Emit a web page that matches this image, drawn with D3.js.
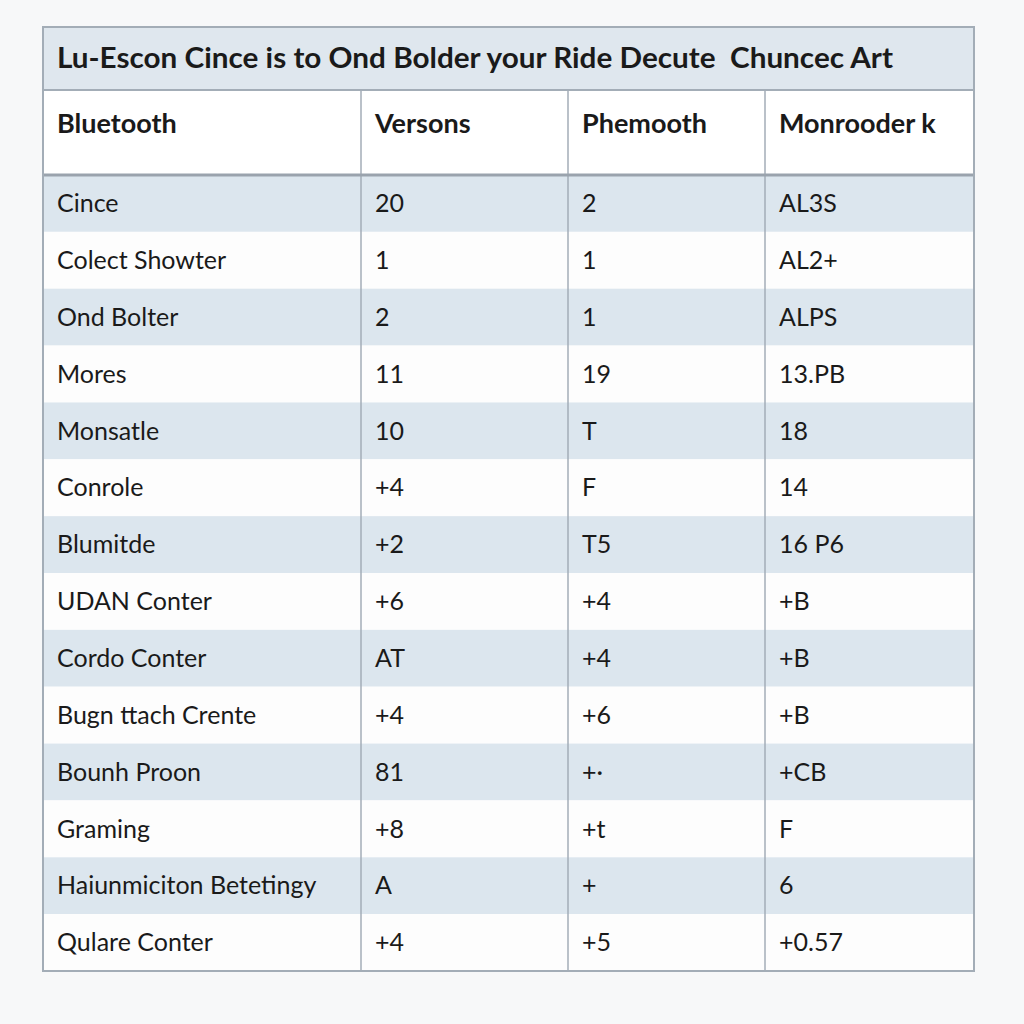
<!DOCTYPE html>
<html><head><meta charset="utf-8">
<script src="https://cdn.jsdelivr.net/npm/d3@7"></script>
<style>
html,body{margin:0;padding:0;background:#f7f8f9;}
svg{display:block;}
text{font-family:Lato,"Open Sans",sans-serif;fill:#1a1a1a;white-space:pre;}
</style></head>
<body><svg id="c" width="1024" height="1024"></svg>
<script>
const title = "Lu-Escon Cince is to Ond Bolder your Ride Decute  Chuncec Art";
const columns = ["Bluetooth", "Versons", "Phemooth", "Monrooder k"];
const categories = ["Cince","Colect Showter","Ond Bolter","Mores","Monsatle","Conrole","Blumitde","UDAN Conter","Cordo Conter","Bugn ttach Crente","Bounh Proon","Graming","Haiunmiciton Betetingy","Qulare Conter"];
const versons = ["20","1","2","11","10","+4","+2","+6","AT","+4","81","+8","A","+4"];
const phemooth = ["2","1","1","19","T","F","T5","+4","+4","+6","+·","+t","+","+5"];
const monrooder = ["AL3S","AL2+","ALPS","13.PB","18","14","16 P6","+B","+B","+B","+CB","F","6","+0.57"];

const svg = d3.select("#c");
const L = 43, R = 974, T = 27, TITLE_B = 90, HEAD_B = 175, B = 971;
const colWeights = [318, 207, 197, 209];
const cum = [0]; colWeights.forEach(w => cum.push(cum[cum.length-1] + w));
const x = d3.scaleLinear().domain([0, cum[cum.length-1]]).range([L, R]);
const colX = i => x(cum[i]);
const y = d3.scaleBand().domain(categories).range([HEAD_B, B]);

svg.append("rect").attr("x",L).attr("y",T).attr("width",R-L).attr("height",B-T).attr("fill","#ffffff");
svg.append("rect").attr("x",L).attr("y",T).attr("width",R-L).attr("height",TITLE_B-T).attr("fill","#dfe7ee");
svg.selectAll("rect.row").data(categories).join("rect").attr("class","row")
  .attr("x",L).attr("y",d=>y(d)).attr("width",R-L).attr("height",y.bandwidth())
  .attr("fill",(d,i)=> i%2===0 ? "#dce6ee" : "#fdfdfd");

svg.append("text").attr("x",57).attr("y",(T+TITLE_B)/2).attr("dy","0.35em")
  .attr("font-size",28).attr("font-weight",700)
  .attr("textLength",836).attr("lengthAdjust","spacingAndGlyphs").text(title);

svg.selectAll("text.head").data(columns).join("text").attr("class","head")
  .attr("x",(d,i)=>colX(i)+14).attr("y",124).attr("dy","0.35em")
  .attr("font-size",27).attr("font-weight",700).text(d=>d);

const cols = [categories, versons, phemooth, monrooder];
cols.forEach((arr, ci) => {
  svg.selectAll("text.c"+ci).data(arr).join("text").attr("class","c"+ci)
    .attr("x", colX(ci)+14)
    .attr("y", (d,i)=> y(categories[i]) + y.bandwidth()/2)
    .attr("dy","0.35em").attr("font-size",25).attr("fill","#1e1e1e")
    .text(d=>d);
});

const g = svg.append("g").attr("stroke","#a3adb7").attr("fill","none");
[1,2,3].forEach(i => g.append("line").attr("x1",colX(i)).attr("x2",colX(i)).attr("y1",TITLE_B).attr("y2",B).attr("stroke-width",1.5));
g.append("line").attr("x1",L).attr("x2",R).attr("y1",TITLE_B).attr("y2",TITLE_B).attr("stroke-width",2);
g.append("line").attr("x1",L).attr("x2",R).attr("y1",HEAD_B).attr("y2",HEAD_B).attr("stroke-width",3).attr("stroke","#9aa3ad");
g.append("rect").attr("x",L).attr("y",T).attr("width",R-L).attr("height",B-T).attr("stroke-width",2);
</script></body></html>
